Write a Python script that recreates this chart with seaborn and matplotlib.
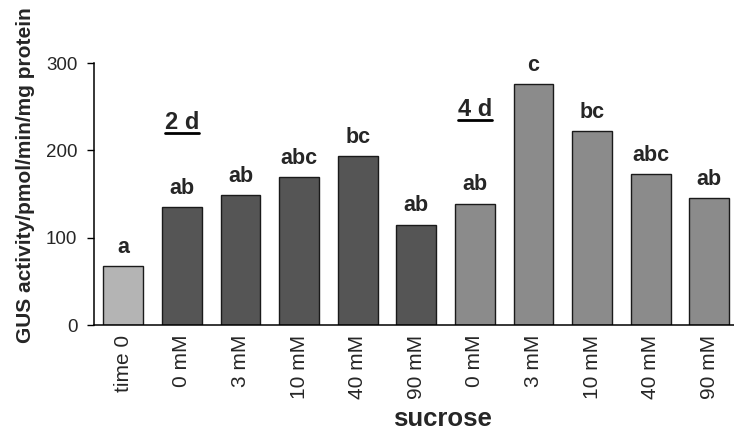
import matplotlib
matplotlib.use("Agg")
import matplotlib.pyplot as plt
from matplotlib.lines import Line2D
import seaborn as sns
import pandas as pd

# Treatment labels shown under each bar, the group each bar belongs to,
# mean GUS activity and the significance letters printed above the bars.
tick_labels = ["time 0", "0 mM", "3 mM", "10 mM", "40 mM", "90 mM",
               "0 mM", "3 mM", "10 mM", "40 mM", "90 mM"]
groups = ["time 0", "2 d", "2 d", "2 d", "2 d", "2 d",
          "4 d", "4 d", "4 d", "4 d", "4 d"]
gus_activity = [67, 135, 149, 169, 193, 115, 139, 276, 222, 173, 145]
letters = ["a", "ab", "ab", "abc", "bc", "ab", "ab", "c", "bc", "abc", "ab"]

group_colors = {"time 0": "#b4b4b4", "2 d": "#555555", "4 d": "#8b8b8b"}

df = pd.DataFrame({
    "key": [f"{g} | {t}" for g, t in zip(groups, tick_labels)],
    "group": groups,
    "activity": gus_activity,
})

sns.set_style("white")
plt.rcParams["font.family"] = ["Liberation Sans", "DejaVu Sans"]

fig = plt.figure(figsize=(7.34, 4.33), dpi=100)
ax = fig.add_axes([0.1281, 0.2494, 0.8719, 0.6051])

sns.barplot(data=df, x="key", y="activity", hue="group", palette=group_colors,
            order=list(df["key"]), dodge=False, width=0.68, legend=False,
            edgecolor="#1a1a1a", linewidth=1.0, saturation=1, ax=ax)

ax.set_xlim(-0.5, 10.42)
ax.set_ylim(0, 300)
ax.set_yticks([0, 100, 200, 300])
ax.set_xticks(range(len(tick_labels)))
ax.set_xticklabels(tick_labels, rotation=90, fontsize=15)
ax.tick_params(axis="x", length=0, pad=7)
ax.tick_params(axis="y", direction="out", length=5, width=1, pad=7,
               labelsize=13.5, left=True, color="black")

for side in ["top", "right"]:
    ax.spines[side].set_visible(False)
for side in ["left", "bottom"]:
    ax.spines[side].set_color("black")
    ax.spines[side].set_linewidth(1.1)

ax.set_ylabel("GUS activity/pmol/min/mg protein", fontsize=15,
              fontweight="bold")
ax.yaxis.set_label_coords(-0.092, 0.5725)
ax.set_xlabel("sucrose", fontsize=18.5, fontweight="bold")
ax.xaxis.set_label_coords(0.544, -0.312)

# Significance letters above each bar
for bar, letter in zip(ax.patches, letters):
    ax.annotate(letter, (bar.get_x() + bar.get_width() / 2, bar.get_height()),
                xytext=(0, 9.5), textcoords="offset points",
                ha="center", va="baseline", fontsize=15.5, fontweight="bold")

# Underlined group headings
headings = [("2 d", 1, 224.5), ("4 d", 6, 239)]
heading_texts = [ax.text(x, y, label, ha="center", va="baseline",
                         fontsize=17, fontweight="bold")
                 for label, x, y in headings]

fig.canvas.draw()
renderer = fig.canvas.get_renderer()
for t in heading_texts:
    bb = t.get_window_extent(renderer).transformed(fig.transFigure.inverted())
    fig.add_artist(Line2D([bb.x0, bb.x1], [bb.y0 + 0.002, bb.y0 + 0.002],
                          transform=fig.transFigure, color="black",
                          linewidth=2.0))

fig.savefig("out.png", dpi=100, facecolor="white")
